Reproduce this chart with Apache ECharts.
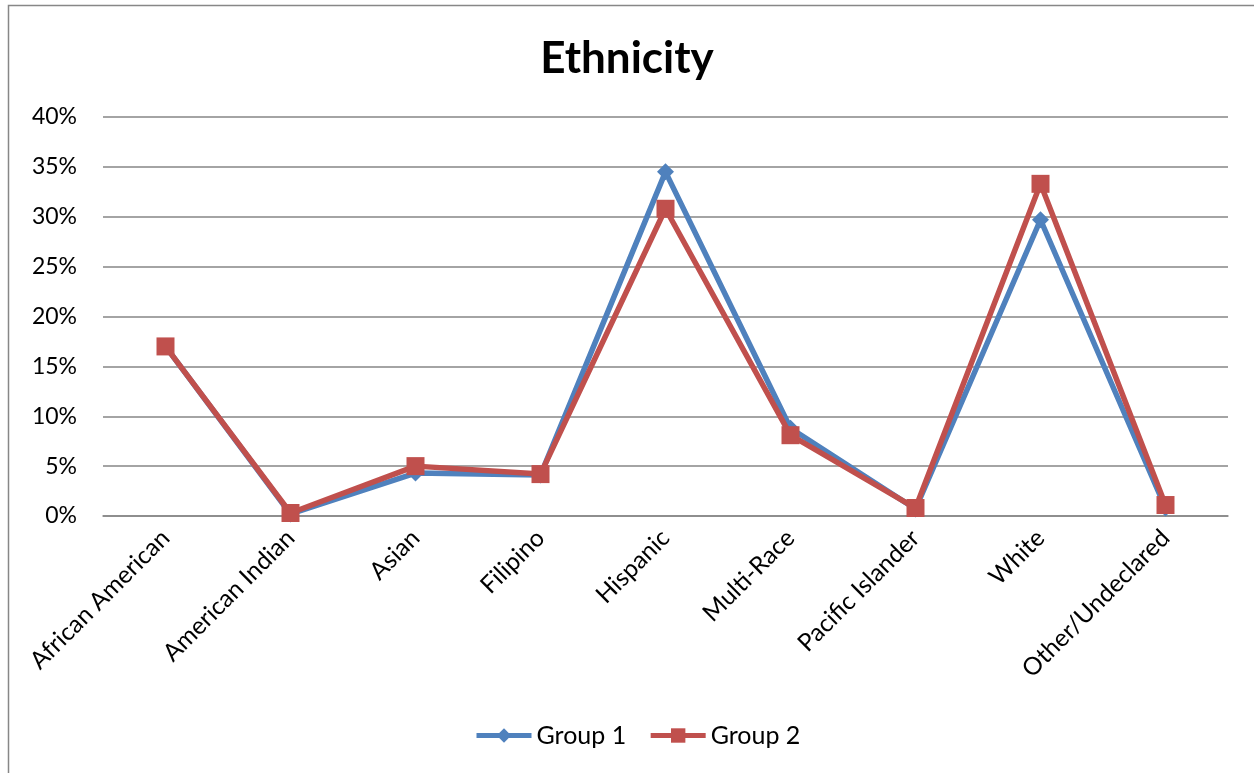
<!DOCTYPE html>
<html>
<head>
<meta charset="utf-8">
<style>
html,body{margin:0;padding:0;background:#fff;}
#chart{width:1254px;height:773px;}
</style>
<script src="https://cdn.jsdelivr.net/npm/echarts@6/dist/echarts.min.js"></script>
</head>
<body>
<div id="chart"></div>
<script>
const categories = ["African American","American Indian","Asian","Filipino","Hispanic","Multi-Race","Pacific Islander","White","Other/Undeclared"];
const group1 = [0.170, 0.002, 0.043, 0.041, 0.345, 0.088, 0.007, 0.297, 0.008];
const group2 = [0.170, 0.003, 0.050, 0.042, 0.308, 0.081, 0.008, 0.333, 0.011];
const yTicks = [0, 0.05, 0.10, 0.15, 0.20, 0.25, 0.30, 0.35, 0.40];

const chart = echarts.init(document.getElementById('chart'));
const font = 'Lato, "Open Sans", sans-serif';
chart.setOption({
  animation: false,
  graphic: [{
    type: 'rect', shape: {x: 8.5, y: 5.5, width: 1300, height: 800},
    style: {fill: 'none', stroke: '#878787', lineWidth: 1.5}, silent: true
  }],
  title: {
    text: 'Ethnicity', left: 'center', top: 32,
    textStyle: {fontFamily: font, fontSize: 44, fontWeight: 'bold', color: '#000'}
  },
  legend: {
    bottom: 20, left: 469, itemWidth: 55, itemHeight: 18, itemGap: 22,
    textStyle: {fontFamily: font, fontSize: 25, color: '#000'},
    data: [
      {name: 'Group 1', lineStyle: {width: 5}},
      {name: 'Group 2', lineStyle: {width: 5}}
    ]
  },
  grid: {left: 103, right: 26, top: 117, bottom: 257, containLabel: false},
  xAxis: {
    type: 'category', data: categories, boundaryGap: true,
    axisLine: {show: true, lineStyle: {color: '#868686', width: 1.5}},
    axisTick: {show: false},
    axisLabel: {rotate: 45, fontFamily: font, fontSize: 24.5, color: '#000', margin: 18, interval: 0}
  },
  yAxis: {
    type: 'value', min: 0, max: 0.40, interval: 0.05,
    axisLine: {show: false}, axisTick: {show: false},
    splitLine: {lineStyle: {color: '#868686', width: 1.5}},
    axisLabel: {fontFamily: font, fontSize: 23, color: '#000', margin: 26,
      formatter: v => Math.round(v * 100) + '%'}
  },
  series: [
    {name: 'Group 1', type: 'line', data: group1, symbol: 'diamond', symbolSize: 17,
      lineStyle: {color: '#4F81BD', width: 5.5}, itemStyle: {color: '#4F81BD'}, z: 2},
    {name: 'Group 2', type: 'line', data: group2, symbol: 'rect', symbolSize: 18,
      lineStyle: {color: '#C0504D', width: 5.5}, itemStyle: {color: '#C0504D'}, z: 3}
  ]
});
</script>
</body>
</html>
